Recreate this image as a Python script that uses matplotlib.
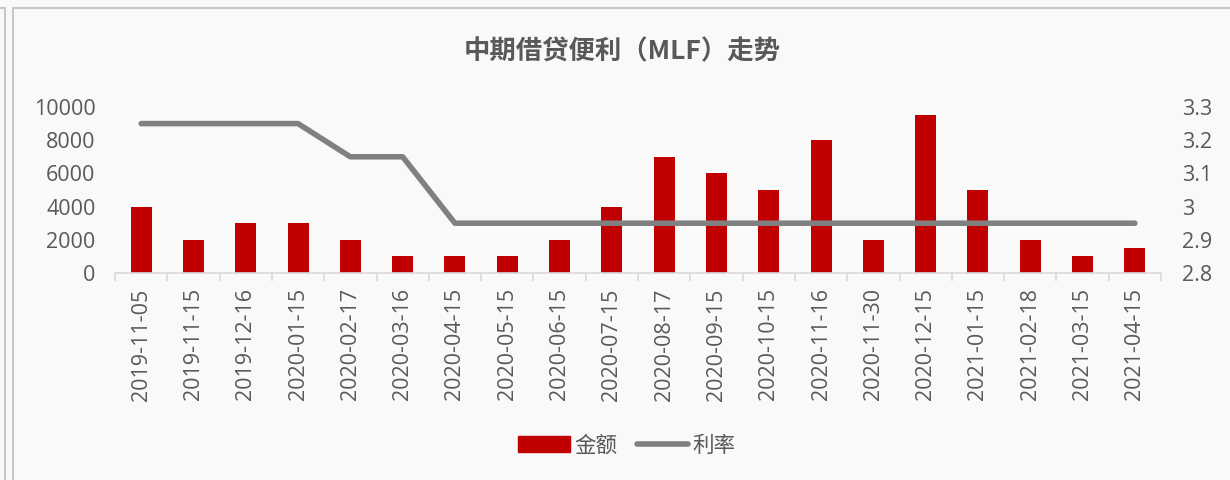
import matplotlib
matplotlib.use("Agg")
import matplotlib.pyplot as plt
from matplotlib.patches import Rectangle
from matplotlib.lines import Line2D
from matplotlib.ticker import FixedLocator, NullFormatter

plt.rcParams['font.family'] = ['Open Sans', 'Noto Sans CJK SC', 'DejaVu Sans']

dates = ["2019-11-05", "2019-11-15", "2019-12-16", "2020-01-15", "2020-02-17",
         "2020-03-16", "2020-04-15", "2020-05-15", "2020-06-15", "2020-07-15",
         "2020-08-17", "2020-09-15", "2020-10-15", "2020-11-16", "2020-11-30",
         "2020-12-15", "2021-01-15", "2021-02-18", "2021-03-15", "2021-04-15"]
amount = [4000, 2000, 3000, 3000, 2000, 1000, 1000, 1000, 2000, 4000,
          7000, 6000, 5000, 8000, 2000, 9500, 5000, 2000, 1000, 1500]
rate = [3.25, 3.25, 3.25, 3.25, 3.15, 3.15, 2.95, 2.95, 2.95, 2.95,
        2.95, 2.95, 2.95, 2.95, 2.95, 2.95, 2.95, 2.95, 2.95, 2.95]
left_ticks = [0, 2000, 4000, 6000, 8000, 10000]
right_ticks = [2.8, 2.9, 3.0, 3.1, 3.2, 3.3]
right_labels = ['2.8', '2.9', '3', '3.1', '3.2', '3.3']

TXT = '#595959'
BAR = '#C00000'
LINE = '#808080'
BG = '#F9F9F9'
FS = 15.5

fig = plt.figure(figsize=(12.3, 4.8), dpi=100, facecolor=BG)
fig.patches.append(Rectangle((13/1230, -0.01), 1.02, 1 - 8/480 + 0.01, transform=fig.transFigure,
                             fill=False, edgecolor='#C8C8C8', linewidth=1.5))
fig.patches.append(Rectangle((-0.01, -0.01), 5/1230 + 0.01, 1 - 8/480 + 0.01, transform=fig.transFigure,
                             fill=False, edgecolor='#C8C8C8', linewidth=1.5))

ax = fig.add_axes([115/1230, 1 - 273/480, (1161 - 115)/1230, (273 - 107)/480])
ax.set_facecolor(BG)
x = list(range(len(dates)))
ax.bar(x, amount, width=0.4, color=BAR, zorder=2)
ax.set_ylim(0, 10000)
ax.set_xlim(-0.5, len(dates) - 0.5)
ax.set_yticks(left_ticks)
ax.set_xticks(x)
ax.set_xticklabels(dates, rotation=90, fontsize=FS, color=TXT)
ax.tick_params(axis='x', which='major', length=0, pad=11)
ax.xaxis.set_minor_locator(FixedLocator([i - 0.5 for i in range(len(dates) + 1)]))
ax.xaxis.set_minor_formatter(NullFormatter())
ax.tick_params(axis='x', which='minor', length=6, color='#D9D9D9', width=1.2)
ax.tick_params(axis='y', length=0, labelsize=FS, labelcolor=TXT, pad=14)
for s in ['top', 'right', 'left']:
    ax.spines[s].set_visible(False)
ax.spines['bottom'].set_color('#D9D9D9')
ax.spines['bottom'].set_linewidth(1.2)

ax2 = ax.twinx()
ax2.plot(x, rate, color=LINE, linewidth=4.0, solid_capstyle='round', zorder=3)
ax2.set_ylim(2.8, 3.3)
ax2.set_yticks(right_ticks)
ax2.set_yticklabels(right_labels)
ax2.tick_params(axis='y', length=0, labelsize=FS, labelcolor=TXT, pad=15)
for s in ['top', 'right', 'left', 'bottom']:
    ax2.spines[s].set_visible(False)

fig.text(622/1230, 1 - 52/480, '中期借贷便利（MLF）走势', ha='center', va='center',
         fontsize=19, fontweight='bold', color=TXT,
         family=['Noto Sans CJK SC', 'DejaVu Sans'])

handles = [Rectangle((0, 0), 1, 1, color=BAR),
           Line2D([0], [0], color=LINE, linewidth=4.0, solid_capstyle='round')]
leg = fig.legend(handles, ['金额', '利率'], loc='center', bbox_to_anchor=(627/1230, 1 - 446/480),
                 ncol=2, frameon=False, fontsize=FS, handlelength=2.4, handletextpad=0.2,
                 columnspacing=0.9, borderpad=0)
for t in leg.get_texts():
    t.set_color(TXT)

fig.savefig('out.png', dpi=100, facecolor=BG)
